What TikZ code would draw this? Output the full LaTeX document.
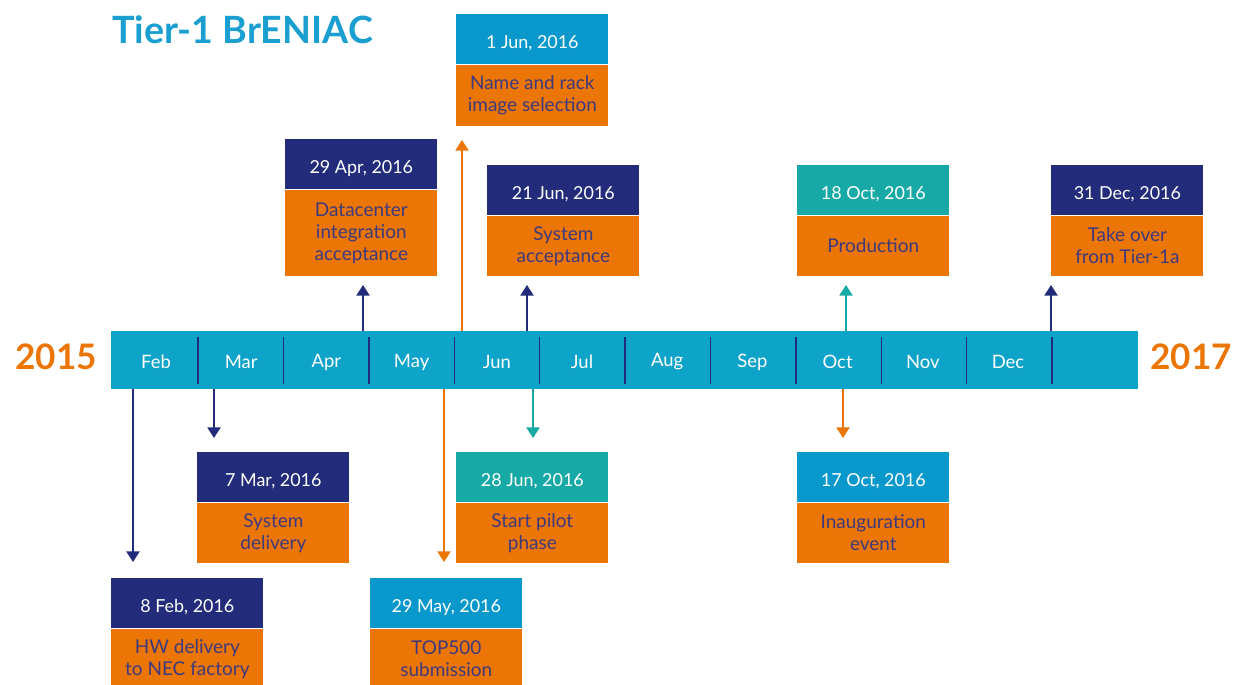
\documentclass[tikz,border=0pt]{standalone}
\usepackage{fontspec}
\setmainfont{Lato}
\usetikzlibrary{arrows.meta,positioning}

\definecolor{barblue}{HTML}{0EA3C9}
\definecolor{titleblue}{HTML}{1A9FD0}
\definecolor{skyblue}{HTML}{0898CB}
\definecolor{navy}{HTML}{222C7A}
\definecolor{tangerine}{HTML}{EB7505}
\definecolor{turq}{HTML}{17A9A5}
\definecolor{inkblue}{HTML}{3E3A80}

\tikzset{
  head/.style={anchor=north west, minimum width=3.04cm, minimum height=1cm, inner sep=0pt,
               text height=11pt, text depth=1pt,
               text=white, font=\fontsize{10.2}{12.5}\selectfont},
  body/.style={below=0pt of #1, minimum width=3.04cm, minimum height=1.2cm, inner sep=0pt,
               fill=tangerine, text=inkblue, align=center, font=\fontsize{10.8}{12.5}\selectfont},
  fleche/.style={line width=1.1pt, -{Triangle[width=7.4pt,length=6pt]}},
  mois/.style={text=white, font=\fontsize{10.5}{12.5}\selectfont},
  annee/.style={text=tangerine, font=\bfseries\fontsize{20}{24}\selectfont}
}

\begin{document}
\begin{tikzpicture}[x=0.02cm,y=-0.02cm]
\useasboundingbox (0,0) rectangle (1233,685);

%titre
\node[anchor=west, text=titleblue, font=\bfseries\fontsize{21.4}{25}\selectfont] (titre) at (106,30) {Tier-1 BrENIAC};

%barre des mois
\node[fill=barblue, minimum width=20.54cm, minimum height=1.16cm, inner sep=0pt] (barre) at (624.5,360) {};
\foreach \i in {0,...,10}
  \draw[navy, line width=0.8pt] (198+85.4*\i,337) -- (198+85.4*\i,384);
\foreach \m [count=\i from 0] in {Feb,Mar,Apr,May,Jun,Jul,Aug,Sep,Oct,Nov,Dec}
  \node[mois] (m\m) at (156+85.2*\i,362) {\m};
\node[annee] (a2015) at (56,357) {2015};
\node[annee] (a2017) at (1191,357) {2017};
%fin

%au-dessus
\node[head, fill=navy] (h29apr) at (285,139) {29 Apr, 2016};
\node[body=h29apr, minimum height=1.72cm] (b29apr) {Datacenter\\integration\\acceptance};
\node[head, fill=skyblue] (h1jun) at (456,14) {1 Jun, 2016};
\node[body=h1jun, minimum height=1.22cm] (b1jun) {Name and rack\\image selection};
\node[head, fill=navy] (h21jun) at (487,165) {21 Jun, 2016};
\node[body=h21jun] (b21jun) {System\\acceptance};
\node[head, fill=turq] (h18oct) at (797,165) {18 Oct, 2016};
\node[body=h18oct] (b18oct) {Production};
\node[head, fill=navy] (h31dec) at (1051,165) {31 Dec, 2016};
\node[body=h31dec] (b31dec) {Take over\\from Tier-1a};
%fin

%en dessous
\node[head, fill=navy] (h7mar) at (197,452) {7 Mar, 2016};
\node[body=h7mar] (b7mar) {System\\delivery};
\node[head, fill=turq] (h28jun) at (456,452) {28 Jun, 2016};
\node[body=h28jun] (b28jun) {Start pilot\\phase};
\node[head, fill=skyblue] (h17oct) at (797,452) {17 Oct, 2016};
\node[body=h17oct] (b17oct) {Inauguration\\event};
\node[head, fill=navy] (h8feb) at (111,578) {8 Feb, 2016};
\node[body=h8feb] (b8feb) {HW delivery\\to NEC factory};
\node[head, fill=skyblue] (h29may) at (370,578) {29 May, 2016};
\node[body=h29may] (b29may) {TOP500\\submission};
%fin

%fleches
\coordinate (t8feb) at (133,562);
\coordinate (t7mar) at (214,438);
\coordinate (t29may) at (444,562);
\coordinate (t28jun) at (533,438);
\coordinate (t17oct) at (843,438);
\draw[fleche, navy] (barre.south -| t8feb) -- (t8feb);
\draw[fleche, navy] (barre.south -| t7mar) -- (t7mar);
\draw[fleche, tangerine] (barre.south -| t29may) -- (t29may);
\draw[fleche, turq] (barre.south -| t28jun) -- (t28jun);
\draw[fleche, tangerine] (barre.south -| t17oct) -- (t17oct);

\coordinate (t29apr) at (363,285);
\coordinate (t1jun) at (462,140);
\coordinate (t21jun) at (527,285);
\coordinate (t18oct) at (846,285);
\coordinate (t31dec) at (1051,285);
\draw[fleche, navy] (barre.north -| t29apr) -- (t29apr);
\draw[fleche, tangerine] (barre.north -| t1jun) -- (t1jun);
\draw[fleche, navy] (barre.north -| t21jun) -- (t21jun);
\draw[fleche, turq] (barre.north -| t18oct) -- (t18oct);
\draw[fleche, navy] (barre.north -| t31dec) -- (t31dec);
%fin
\end{tikzpicture}
\end{document}
